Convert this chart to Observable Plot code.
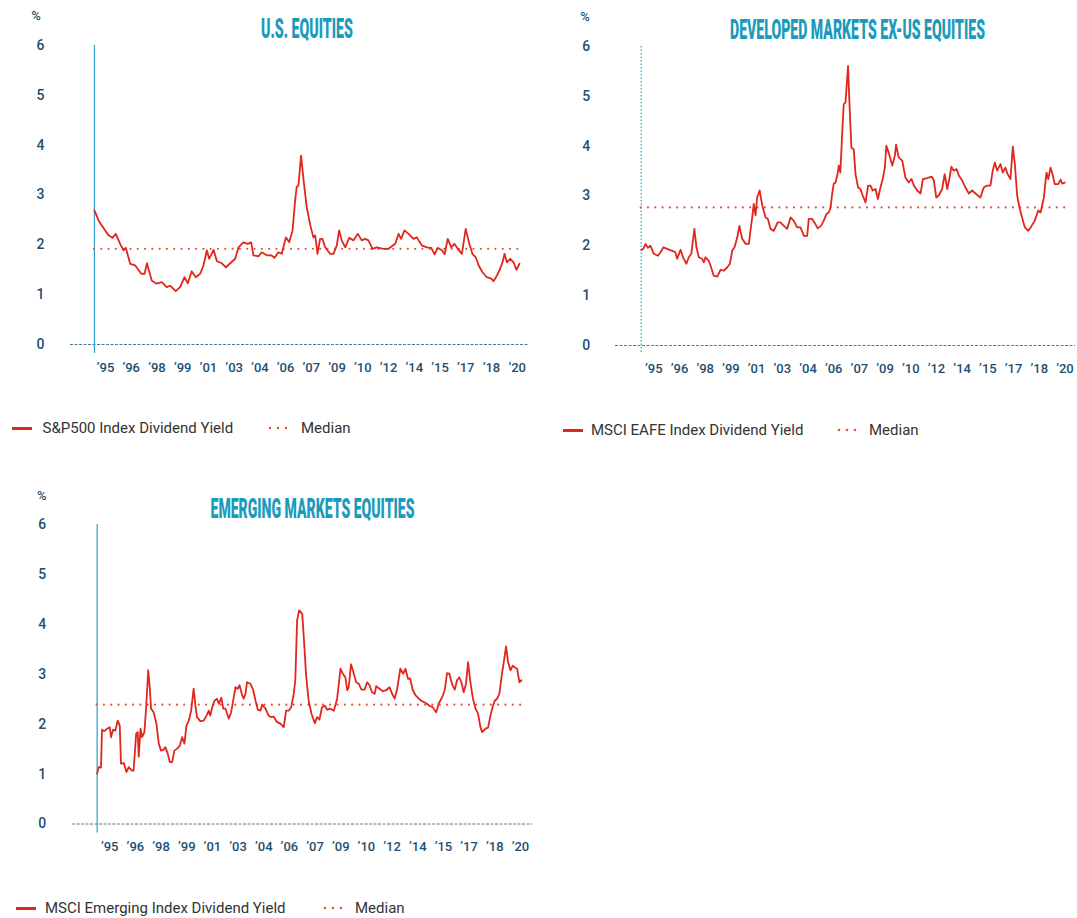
<!DOCTYPE html>
<html>
<head>
<meta charset="utf-8">
<script src="https://cdn.jsdelivr.net/npm/d3@7"></script>
<script src="https://cdn.jsdelivr.net/npm/@observablehq/plot@0.6"></script>
<style>
  html, body { margin: 0; padding: 0; background: #fff; }
  #page { position: relative; width: 1077px; height: 918px; overflow: hidden; background: #fff; font-family: Roboto, "Noto Sans", sans-serif; }
  .panel { position: absolute; }
  .pct { position: absolute; font-size: 13px; font-weight: 500; color: #1d4f71; transform: translate(-50%, -50%); }
  .leg { position: absolute; font-size: 15px; color: #333; line-height: 20px; white-space: nowrap; }
  .sw { position: absolute; height: 3px; background: #e0261d; }
</style>
</head>
<body>
<div id="page"></div>
<script>
// ---------- data ----------
const xTickLabels = ["’95","’96","’98","’99","’01","’03","’04","’06","’07","’09","’10","’12","’14","’15","’17","’18","’20"];
const yTicks = [0, 1, 2, 3, 4, 5, 6];

const titles = ["U.S. EQUITIES", "DEVELOPED MARKETS EX-US EQUITIES", "EMERGING MARKETS EQUITIES"];
const seriesLabels = ["S&P500 Index Dividend Yield", "MSCI EAFE Index Dividend Yield", "MSCI Emerging Index Dividend Yield"];
const medianLabel = "Median";

// x positions are in units of the tick-label slots ('95 = 0 ... '20 = 16)
const usX = [-0.43,-0.27,-0.08,0.12,0.27,0.40,0.57,0.70,0.79,0.96,1.15,1.39,1.52,1.61,1.80,1.99,2.19,2.38,2.51,2.73,2.90,3.07,3.20,3.35,3.51,3.68,3.81,3.94,4.03,4.20,4.33,4.52,4.68,4.85,5.04,5.17,5.36,5.53,5.66,5.75,5.95,6.07,6.27,6.44,6.57,6.72,6.85,7.01,7.14,7.27,7.37,7.43,7.50,7.60,7.70,7.82,7.96,8.08,8.15,8.24,8.34,8.43,8.54,8.73,8.86,8.99,9.08,9.18,9.32,9.47,9.64,9.81,9.96,10.09,10.22,10.38,10.54,10.80,11.00,11.13,11.26,11.39,11.49,11.62,11.78,11.97,12.10,12.29,12.49,12.66,12.79,12.91,13.07,13.18,13.30,13.44,13.56,13.69,13.85,14.00,14.14,14.26,14.39,14.50,14.65,14.82,14.99,15.08,15.21,15.34,15.43,15.51,15.60,15.73,15.86,15.97,16.09];
const usY = [2.69,2.49,2.34,2.19,2.14,2.22,2.02,1.89,1.94,1.62,1.59,1.42,1.42,1.63,1.28,1.22,1.25,1.15,1.18,1.07,1.15,1.35,1.23,1.47,1.35,1.42,1.59,1.89,1.72,1.90,1.67,1.63,1.55,1.63,1.72,1.95,2.05,2.02,2.05,1.79,1.77,1.85,1.79,1.79,1.74,1.85,1.82,2.15,2.05,2.29,2.89,3.16,3.19,3.79,3.29,2.76,2.39,2.15,2.19,1.82,2.12,2.12,1.95,1.82,1.82,1.99,2.29,2.09,1.95,2.14,2.09,2.22,2.09,2.12,2.09,1.92,1.95,1.92,1.92,1.97,2.02,2.22,2.12,2.29,2.22,2.12,2.15,1.99,1.95,1.94,1.81,1.94,1.89,1.81,2.12,1.95,2.02,1.92,1.82,2.32,2.02,1.82,1.75,1.59,1.45,1.35,1.32,1.27,1.38,1.52,1.65,1.82,1.65,1.72,1.65,1.50,1.62];
const usMedian = 1.92;

const dmX = [-0.49,-0.41,-0.32,-0.23,-0.13,0.00,0.16,0.26,0.37,0.52,0.72,0.84,0.91,1.04,1.14,1.27,1.36,1.46,1.58,1.66,1.75,1.88,1.95,2.01,2.14,2.23,2.33,2.47,2.60,2.72,2.86,2.96,3.05,3.14,3.25,3.33,3.44,3.57,3.70,3.76,3.83,3.89,3.96,4.02,4.12,4.22,4.35,4.44,4.54,4.67,4.82,4.93,5.06,5.19,5.32,5.45,5.58,5.71,5.84,5.97,6.03,6.16,6.25,6.38,6.51,6.61,6.72,6.81,6.88,6.94,7.00,7.07,7.14,7.20,7.26,7.33,7.39,7.46,7.56,7.61,7.69,7.78,7.85,7.95,8.04,8.13,8.24,8.34,8.43,8.52,8.63,8.72,8.82,8.91,8.99,9.05,9.14,9.28,9.38,9.43,9.53,9.67,9.79,9.92,10.03,10.12,10.25,10.38,10.47,10.64,10.81,10.90,10.99,11.09,11.22,11.32,11.42,11.51,11.58,11.67,11.78,11.87,12.00,12.13,12.26,12.39,12.54,12.71,12.84,12.97,13.10,13.19,13.27,13.36,13.49,13.58,13.68,13.77,13.88,13.97,14.05,14.14,14.23,14.33,14.44,14.57,14.70,14.82,14.96,15.05,15.18,15.28,15.35,15.44,15.53,15.60,15.74,15.83,15.89,15.99];
const dmY = [1.92,1.94,2.04,1.96,2.00,1.84,1.80,1.87,1.97,1.94,1.90,1.87,1.74,1.92,1.77,1.64,1.77,1.84,2.34,1.97,1.77,1.74,1.67,1.77,1.70,1.57,1.40,1.38,1.52,1.50,1.57,1.64,1.90,1.97,2.17,2.40,2.14,2.04,2.04,2.30,2.57,2.84,2.61,2.97,3.11,2.81,2.57,2.54,2.34,2.30,2.47,2.47,2.40,2.34,2.57,2.50,2.37,2.37,2.20,2.20,2.54,2.54,2.47,2.35,2.40,2.50,2.64,2.67,2.77,3.04,3.24,3.27,3.41,3.61,3.47,4.24,4.84,4.88,5.61,4.91,3.97,3.94,3.44,3.17,3.14,3.01,2.87,3.21,3.21,3.11,3.14,2.94,3.17,3.34,3.57,4.01,3.87,3.61,3.81,4.03,3.77,3.71,3.37,3.27,3.34,3.21,3.11,3.05,3.34,3.36,3.39,3.31,2.97,3.01,3.14,3.44,3.14,3.37,3.59,3.51,3.54,3.41,3.31,3.17,3.05,3.11,3.04,2.97,3.17,3.21,3.21,3.51,3.67,3.51,3.64,3.47,3.57,3.44,3.34,3.99,3.64,3.01,2.77,2.57,2.37,2.30,2.40,2.50,2.71,2.67,2.97,3.47,3.34,3.57,3.41,3.24,3.24,3.33,3.25,3.27];
const dmMedian = 2.77;

const emX = [-0.49,-0.43,-0.34,-0.30,-0.21,-0.10,0.00,0.05,0.13,0.22,0.31,0.39,0.44,0.55,0.65,0.74,0.87,0.93,1.03,1.09,1.13,1.20,1.26,1.35,1.42,1.50,1.56,1.61,1.71,1.82,1.91,2.00,2.10,2.17,2.26,2.34,2.43,2.52,2.63,2.73,2.82,2.91,2.99,3.08,3.17,3.27,3.34,3.40,3.53,3.66,3.77,3.86,3.92,3.99,4.08,4.18,4.25,4.35,4.42,4.51,4.64,4.73,4.81,4.90,4.99,5.06,5.16,5.22,5.29,5.35,5.48,5.59,5.68,5.77,5.87,5.94,6.07,6.19,6.29,6.39,6.52,6.65,6.78,6.87,6.97,7.07,7.17,7.23,7.30,7.38,7.50,7.56,7.65,7.75,7.86,7.99,8.08,8.17,8.27,8.38,8.47,8.60,8.73,8.86,8.99,9.08,9.18,9.25,9.31,9.40,9.51,9.60,9.70,9.81,9.93,10.03,10.12,10.22,10.32,10.38,10.51,10.64,10.77,10.90,11.00,11.10,11.20,11.32,11.43,11.52,11.62,11.71,11.80,11.91,12.04,12.17,12.33,12.45,12.58,12.72,12.82,12.95,13.05,13.14,13.23,13.34,13.44,13.53,13.62,13.70,13.79,13.88,13.96,14.05,14.14,14.25,14.35,14.44,14.51,14.64,14.74,14.83,14.92,15.00,15.09,15.18,15.29,15.35,15.44,15.52,15.61,15.70,15.80,15.87,15.96,16.04];
const emY = [1.01,1.14,1.13,1.89,1.86,1.91,1.94,1.74,1.89,1.87,2.07,1.97,1.21,1.22,1.04,1.14,1.07,1.07,1.81,1.84,1.35,1.91,1.74,1.84,2.34,3.08,2.74,2.31,2.24,2.01,1.61,1.47,1.49,1.54,1.41,1.24,1.24,1.47,1.51,1.57,1.74,1.61,1.97,2.07,2.27,2.71,2.37,2.14,2.06,2.07,2.17,2.27,2.17,2.34,2.47,2.51,2.41,2.53,2.31,2.31,2.11,2.24,2.47,2.74,2.71,2.78,2.58,2.51,2.61,2.84,2.81,2.68,2.47,2.29,2.27,2.39,2.31,2.17,2.14,2.15,2.04,2.01,1.94,2.27,2.27,2.34,2.61,2.88,4.08,4.28,4.21,3.74,2.98,2.47,2.21,2.02,2.14,2.09,2.34,2.37,2.29,2.31,2.27,2.51,3.11,3.01,2.94,2.68,2.74,3.20,3.01,2.84,2.81,2.69,2.69,2.84,2.78,2.64,2.61,2.76,2.71,2.66,2.68,2.74,2.61,2.51,2.71,3.11,3.01,3.11,2.91,2.91,2.69,2.58,2.51,2.46,2.42,2.37,2.34,2.24,2.42,2.54,2.68,3.02,3.01,2.80,2.69,2.88,2.94,2.84,2.64,2.81,3.24,2.84,2.54,2.31,2.21,1.94,1.84,1.91,1.93,2.17,2.35,2.47,2.51,2.61,3.04,3.24,3.56,3.24,3.08,3.17,3.13,3.11,2.84,2.88];
const emMedian = 2.39;

// ---------- drawing ----------
const RED = "#e0261d";
const TEAL = "#1b9bbb";
const NAVY = "#1d4f71";
const page = document.getElementById("page");

function chart(c) {
  const data = c.x.map((x, i) => ({x, y: c.y[i]}));
  const first = c.x[0], last = c.x[c.x.length - 1];
  const svg = Plot.plot({
    width: c.w, height: c.h,
    marginLeft: c.ml, marginRight: c.mr, marginTop: c.mt, marginBottom: c.mb,
    x: {domain: c.xd, label: null},
    y: {domain: [0, 6], label: null},
    style: {background: "transparent", fontFamily: "Roboto, sans-serif", fontSize: "13px", color: NAVY, overflow: "visible"},
    marks: [
      Plot.ruleY([0], {stroke: "#4d7a90", strokeWidth: 1, strokeDasharray: "3,1.5"}),
      Plot.ruleX([first], {y1: 6, y2: -0.18, stroke: "#2aa0c8", strokeWidth: 1.2, strokeDasharray: c.vdash}),
      Plot.ruleY([c.median], {x1: first, x2: last, stroke: "#e0553a", strokeWidth: 2.2, strokeDasharray: "0,7.3", strokeLinecap: "round"}),
      Plot.line(data, {x: "x", y: "y", stroke: RED, strokeWidth: 1.8, strokeLinejoin: "round"}),
      Plot.axisX(xTickLabels.map((_, i) => i), {tickSize: 0, tickPadding: 18, tickFormat: i => xTickLabels[i], fontSize: 13, fontWeight: 500, fill: NAVY}),
      Plot.axisY(yTicks, {tickSize: 0, tickPadding: c.yp, tickFormat: d => String(d), textAnchor: "middle", fontSize: 14, fontWeight: 500, fill: NAVY})
    ]
  });
  const div = document.createElement("div");
  div.className = "panel";
  div.style.left = c.left + "px";
  div.style.top = c.top + "px";
  div.appendChild(svg);
  page.appendChild(div);

  // title: condensed display text, compressed horizontally to its printed width
  const g = d3.select(svg).append("g");
  const t = g.append("text")
    .attr("text-anchor", "middle")
    .attr("font-family", "Roboto, 'DejaVu Sans', sans-serif")
    .attr("font-weight", 900).attr("font-size", 28)
    .attr("fill", TEAL)
    .text(c.title);
  const natural = t.node().getComputedTextLength() || c.tw;
  g.attr("transform", `translate(${c.tx},${c.ty}) scale(${c.tw / natural},1)`);

  const pct = document.createElement("div");
  pct.className = "pct";
  pct.textContent = "%";
  pct.style.left = c.pctX + "px";
  pct.style.top = c.pctY + "px";
  page.appendChild(pct);

  // legend
  const L = c.leg;
  const sw = document.createElement("div");
  sw.className = "sw";
  sw.style.left = L.sw + "px"; sw.style.width = "20px"; sw.style.top = (L.y - 1.5) + "px";
  page.appendChild(sw);
  const t1 = document.createElement("div");
  t1.className = "leg"; t1.textContent = c.label;
  t1.style.left = L.t1 + "px"; t1.style.top = (L.y - 10) + "px";
  page.appendChild(t1);
  const dots = document.createElementNS("http://www.w3.org/2000/svg", "svg");
  dots.setAttribute("width", 22); dots.setAttribute("height", 6);
  dots.style.position = "absolute"; dots.style.left = L.dots + "px"; dots.style.top = (L.y - 3) + "px";
  dots.innerHTML = '<line x1="2" x2="20" y1="3" y2="3" stroke="#e0553a" stroke-width="2.6" stroke-linecap="round" stroke-dasharray="0,8"/>';
  page.appendChild(dots);
  const t2 = document.createElement("div");
  t2.className = "leg"; t2.textContent = medianLabel;
  t2.style.left = L.t2 + "px"; t2.style.top = (L.y - 10) + "px";
  page.appendChild(t2);
}

chart({
  title: titles[0], label: seriesLabels[0], x: usX, y: usY, median: usMedian,
  left: 0, top: 0, w: 540, h: 380, ml: 70, mr: 12, mt: 45, mb: 36,
  xd: [-1.36, 16.44], yp: 30, vdash: null,
  tx: 307, ty: 38, tw: 92, pctX: 36, pctY: 15,
  leg: {y: 428, sw: 12, t1: 42.5, dots: 268, t2: 301}
});
chart({
  title: titles[1], label: seriesLabels[1], x: dmX, y: dmY, median: dmMedian,
  left: 540, top: 0, w: 537, h: 380, ml: 75, mr: 2, mt: 46, mb: 35,
  xd: [-1.49, 16.41], yp: 29.3, vdash: "1.5,2",
  tx: 317.5, ty: 39, tw: 255, pctX: 585, pctY: 16,
  leg: {y: 430, sw: 563, t1: 591, dots: 837, t2: 869}
});
chart({
  title: titles[2], label: seriesLabels[2], x: emX, y: emY, median: emMedian,
  left: 0, top: 480, w: 540, h: 380, ml: 72, mr: 8, mt: 44, mb: 36.5,
  xd: [-1.45, 16.47], yp: 30.3, vdash: null,
  tx: 312.5, ty: 38, tw: 204, pctX: 41.7, pctY: 495,
  leg: {y: 908, sw: 16, t1: 45, dots: 323, t2: 355}
});
</script>
</body>
</html>
